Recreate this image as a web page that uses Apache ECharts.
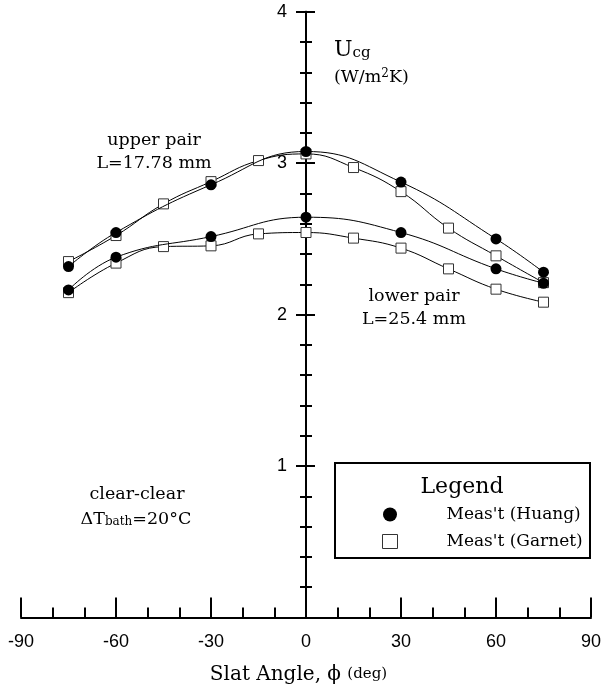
<!DOCTYPE html>
<html><head><meta charset="utf-8">
<script src="https://cdn.jsdelivr.net/npm/echarts@6/dist/echarts.min.js"></script>
<style>html,body{margin:0;padding:0;background:#fff}#c{width:602px;height:691px}</style>
</head><body><div id="c"></div>
<script>
const huangAngles = [-75, -60, -30, 0, 30, 60, 75];
const garnetAngles = [-75, -60, -45, -30, -15, 0, 15, 30, 45, 60, 75];
const huangUpper = [2.317, 2.542, 2.857, 3.077, 2.875, 2.500, 2.280];
const huangLower = [2.163, 2.379, 2.515, 2.643, 2.542, 2.302, 2.207];
const garnetUpper = [2.350, 2.522, 2.731, 2.878, 3.017, 3.061, 2.971, 2.812, 2.571, 2.388, 2.211];
const garnetLower = [2.145, 2.340, 2.449, 2.454, 2.533, 2.542, 2.505, 2.439, 2.302, 2.168, 2.082];
const xTicks = [-90, -60, -30, 0, 30, 60, 90];
const yTicks = [1, 2, 3, 4];
const huangName = "Meas't (Huang)";
const garnetName = "Meas't (Garnet)";

const pair = (xs, ys) => xs.map((x, i) => [x, ys[i]]);
const SERIF = "'DejaVu Serif', 'Liberation Serif', serif";
const SANS = "'Liberation Sans', Arial, sans-serif";

const GRID_LEFT = 21, GRID_RIGHT = 11;
const GRID_W = 602 - GRID_LEFT - GRID_RIGHT;

const chart = echarts.init(document.getElementById('c'), null, {renderer: 'canvas'});

function garnetSeries(data) {
  return {
    type: 'line', name: garnetName, data: data, smooth: 0.45,
    symbol: 'rect', symbolSize: 10,
    itemStyle: {color: '#fff', borderColor: '#333', borderWidth: 1},
    lineStyle: {color: '#000', width: 1}, z: 2
  };
}
function huangSeries(data) {
  return {
    type: 'line', name: huangName, data: data, smooth: 0.45,
    symbol: 'circle', symbolSize: 11,
    itemStyle: {color: '#000'},
    lineStyle: {color: '#000', width: 1}, z: 3
  };
}

const yBase = {
  type: 'value', min: 0, max: 4, interval: 1, position: 'left',
  offset: -GRID_W / 2,
  axisLine: {show: true, onZero: false, lineStyle: {color: '#000', width: 2}},
  splitLine: {show: false},
  minorSplitLine: {show: false}
};

chart.setOption({
  animation: false,
  backgroundColor: '#fff',
  grid: {left: GRID_LEFT, right: GRID_RIGHT, top: 11.7, bottom: 73.5, containLabel: false, outerBoundsMode: 'none'},
  xAxis: {
    type: 'value', min: -90, max: 90, interval: 30,
    axisLine: {onZero: false, lineStyle: {color: '#000', width: 2}},
    axisTick: {inside: true, length: 20, lineStyle: {color: '#000', width: 2}},
    minorTick: {show: true, splitNumber: 3, length: 10, lineStyle: {color: '#000', width: 2}},
    splitLine: {show: false},
    axisLabel: {
      margin: 16, color: '#000', fontFamily: SANS, fontSize: 18,
      formatter: v => xTicks.includes(v) ? String(v) : ''
    },
    name: 'Slat Angle, ϕ {s|(deg)}',
    nameLocation: 'middle', nameGap: 47,
    nameTextStyle: {
      color: '#000', fontFamily: SERIF, fontSize: 20, padding: [0, 15, 0, 0],
      rich: {s: {fontFamily: SERIF, fontSize: 15, color: '#000'}}
    }
  },
  yAxis: [
    Object.assign({}, yBase, {
      axisTick: {show: true, inside: false, length: 10, lineStyle: {color: '#000', width: 2}},
      minorTick: {show: true, splitNumber: 5, length: 6, lineStyle: {color: '#000', width: 2}},
      axisLabel: {
        margin: 19, color: '#000', fontFamily: SANS, fontSize: 18,
        formatter: v => yTicks.includes(v) ? String(v) : ''
      }
    }),
    Object.assign({}, yBase, {
      axisTick: {show: true, inside: true, length: 9, lineStyle: {color: '#000', width: 2}},
      minorTick: {show: true, splitNumber: 5, length: 6, lineStyle: {color: '#000', width: 2}},
      axisLabel: {show: false}
    })
  ],
  legend: {
    orient: 'vertical', left: 377, top: 501, itemGap: 10,
    itemWidth: 15, itemHeight: 14,
    textStyle: {color: '#000', fontFamily: SERIF, fontSize: 17, padding: [0, 0, 0, 44]},
    data: [
      {name: huangName, icon: 'circle', itemStyle: {color: '#000', borderWidth: 0}},
      {name: garnetName, icon: 'rect', itemStyle: {color: '#fff', borderColor: '#333', borderWidth: 1}}
    ],
    selectedMode: false
  },
  graphic: [
    {type: 'rect', left: 334, top: 462, z: 0,
     shape: {width: 255, height: 95},
     style: {fill: '#fff', stroke: '#000', lineWidth: 2}},
    {type: 'text', x: 462, y: 487, z: 10,
     style: {text: 'Legend', font: "22px 'DejaVu Serif', serif", fill: '#000', align: 'center', verticalAlign: 'middle'}},
    {type: 'text', x: 154, y: 140, z: 10,
     style: {text: 'upper pair', font: "17.5px 'DejaVu Serif', serif", fill: '#000', align: 'center', verticalAlign: 'middle'}},
    {type: 'text', x: 154, y: 163, z: 10,
     style: {text: 'L=17.78 mm', font: "17.5px 'DejaVu Serif', serif", fill: '#000', align: 'center', verticalAlign: 'middle'}},
    {type: 'text', x: 414, y: 296, z: 10,
     style: {text: 'lower pair', font: "17.5px 'DejaVu Serif', serif", fill: '#000', align: 'center', verticalAlign: 'middle'}},
    {type: 'text', x: 414, y: 319, z: 10,
     style: {text: 'L=25.4 mm', font: "17.5px 'DejaVu Serif', serif", fill: '#000', align: 'center', verticalAlign: 'middle'}},
    {type: 'text', x: 137, y: 494, z: 10,
     style: {text: 'clear-clear', font: "17.5px 'DejaVu Serif', serif", fill: '#000', align: 'center', verticalAlign: 'middle'}},
    {type: 'text', x: 136, y: 519, z: 10,
     style: {
       text: 'ΔT{sub|bath}=20°C', align: 'center', verticalAlign: 'middle',
       font: "17.5px 'DejaVu Serif', serif", fill: '#000',
       rich: {sub: {fontFamily: SERIF, fontSize: 12, lineHeight: 12, verticalAlign: 'bottom', fill: '#000'}}
     }},
    {type: 'text', x: 334, y: 50, z: 10,
     style: {
       text: 'U{sub|cg}', align: 'left', verticalAlign: 'middle',
       font: "22px 'DejaVu Serif', serif", fill: '#000',
       rich: {sub: {fontFamily: SERIF, fontSize: 15, lineHeight: 14, verticalAlign: 'bottom', fill: '#000'}}
     }},
    {type: 'text', x: 334, y: 77, z: 10,
     style: {
       text: '(W/m{sup|2}K)', align: 'left', verticalAlign: 'middle',
       font: "17.5px 'DejaVu Serif', serif", fill: '#000',
       rich: {sup: {fontFamily: SERIF, fontSize: 12, lineHeight: 10, verticalAlign: 'top', fill: '#000'}}
     }}
  ],
  series: [
    garnetSeries(pair(garnetAngles, garnetUpper)),
    garnetSeries(pair(garnetAngles, garnetLower)),
    huangSeries(pair(huangAngles, huangUpper)),
    huangSeries(pair(huangAngles, huangLower))
  ]
});
</script></body></html>
